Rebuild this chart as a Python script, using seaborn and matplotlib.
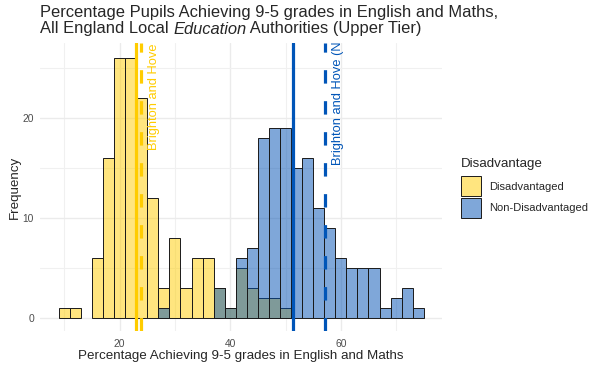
import numpy as np
import pandas as pd
import matplotlib
matplotlib.use('Agg')
import matplotlib.pyplot as plt
import seaborn as sns
from matplotlib.patches import Patch

# histogram bins (2 percentage points wide)
bin_edges = [9, 11, 13, 15, 17, 19, 21, 23, 25, 27, 29, 31, 33, 35, 37, 39, 41,
             43, 45, 47, 49, 51, 53, 55, 57, 59, 61, 63, 65, 67, 69, 71, 73, 75]

# number of local authorities in each bin
dis_counts = [1, 1, 0, 6, 16, 26, 26, 22, 12, 3, 8, 3, 6, 6, 3, 1, 5,
              3, 2, 2, 1, 0, 0, 0, 0, 0, 0, 0, 0, 0, 0, 0, 0]
non_counts = [0, 0, 0, 0, 0, 0, 0, 0, 0, 1, 0, 0, 0, 0, 3, 1, 6,
              7, 18, 19, 19, 15, 16, 11, 9, 6, 5, 5, 5, 1, 2, 3, 1]

groups = ['Disadvantaged', 'Non-Disadvantaged']
fill_colors = ['#FFCD00', '#0050B4']
line_colors = ['#FFCC00', '#0055B8']
england_pct = [22.9, 51.3]      # solid lines
brighton_pct = [23.8, 57.2]     # dashed lines
brighton_labels = ['Brighton and Hove (Disadvantaged)',
                   'Brighton and Hove (Non-Disadvantaged)']

mids = [(a + b) / 2 for a, b in zip(bin_edges[:-1], bin_edges[1:])]
df = pd.DataFrame({
    'pct': mids * 2,
    'count': dis_counts + non_counts,
    'group': [groups[0]] * len(mids) + [groups[1]] * len(mids),
})

sns.set_style('white')
plt.rcParams['font.family'] = ['Liberation Sans', 'DejaVu Sans']

fig = plt.figure(figsize=(6.02, 3.69), dpi=100)
ax = fig.add_axes([40 / 602, 38 / 369, 402 / 602, 288 / 369])

for g, fc in zip(groups, fill_colors):
    n0 = len(ax.patches)
    sns.histplot(data=df[df['group'] == g], x='pct', weights='count',
                 bins=bin_edges, color=fc, ax=ax)
    for p in ax.patches[n0:]:
        if p.get_height() == 0:
            p.remove()
            continue
        p.set_alpha(None)
        p.set_facecolor(matplotlib.colors.to_rgba(fc, 0.5))
        p.set_edgecolor('#1a1a1a')
        p.set_linewidth(0.7)

label_x = [26.2, 59.5]
label_y = [16.8, 15.3]
for i in range(2):
    ax.axvline(england_pct[i], color=line_colors[i], lw=2.3, zorder=3)
    ax.axvline(brighton_pct[i], color=line_colors[i], lw=2.3, zorder=3,
               linestyle=(0, (4.2, 5.5)))
    ax.text(label_x[i], label_y[i], brighton_labels[i], rotation=90,
            ha='center', va='bottom', color=line_colors[i], fontsize=9.3,
            clip_on=True)

ax.set_xlim(5.6, 78.3)
ax.set_ylim(-1.33, 27.47)
ax.set_xticks([20, 40, 60])
ax.set_xticks([10, 30, 50, 70], minor=True)
ax.set_yticks([0, 10, 20])
ax.set_yticks([5, 15, 25], minor=True)
ax.grid(which='major', color='#EBEBEB', lw=1.0)
ax.grid(which='minor', color='#F0F0F0', lw=0.8)
ax.set_axisbelow(True)
for s in ax.spines.values():
    s.set_visible(False)
ax.tick_params(which='both', length=0, labelsize=7.4, labelcolor='#4D4D4D')
ax.tick_params(axis='x', pad=5.5)
ax.tick_params(axis='y', pad=4.3)

ax.set_xlabel('Percentage Achieving 9-5 grades in English and Maths', fontsize=9.6)
ax.set_ylabel('Frequency', fontsize=9.6)
ax.xaxis.set_label_coords(0.5, -0.066)
ax.yaxis.set_label_coords(-0.048, 0.5)

# title, second line has an italic word
fig.text(40 / 602, 1 - 17.5 / 369,
         'Percentage Pupils Achieving 9-5 grades in English and Maths,',
         fontsize=11.9, va='baseline')
t1 = fig.text(40 / 602, 1 - 33.5 / 369, 'All England Local ', fontsize=11.9,
              va='baseline')
t2 = ax.annotate('Education', xy=(1, 0), xycoords=t1, va='bottom', ha='left',
                 fontsize=11.9, fontstyle='italic', annotation_clip=False)
ax.annotate(' Authorities (Upper Tier)', xy=(1, 0), xycoords=t2, va='bottom',
            ha='left', fontsize=11.9, annotation_clip=False)

handles = [Patch(facecolor=matplotlib.colors.to_rgba(c, 0.5), edgecolor='#1a1a1a',
                 lw=0.7) for c in fill_colors]
leg = fig.legend(handles, groups, title='Disadvantage', loc='upper left',
                 bbox_to_anchor=(461 / 602, 1 - 158 / 369), frameon=False,
                 fontsize=8, title_fontsize=9.6, borderpad=0, borderaxespad=0,
                 handlelength=1.8, handleheight=2.39, labelspacing=0.12,
                 handletextpad=0.7, alignment='left')
leg._legend_box.sep = 4.6  # a little more room under the legend title

fig.savefig('out.png', dpi=100)
